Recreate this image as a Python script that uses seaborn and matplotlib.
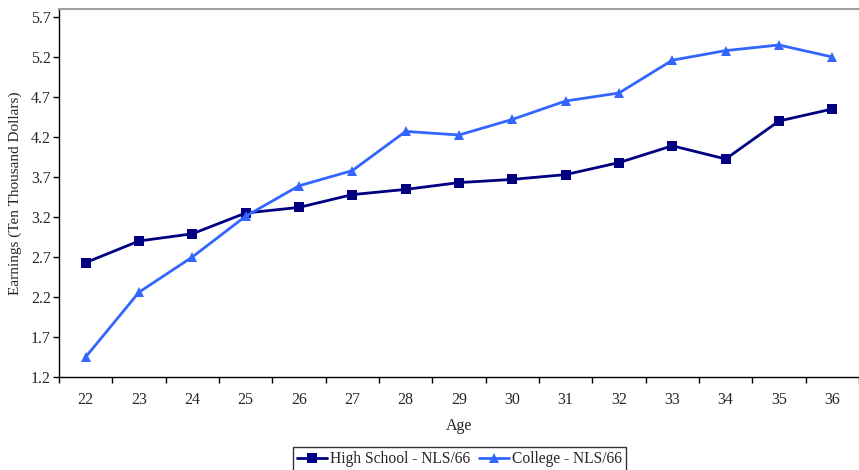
import numpy as np
import pandas as pd
import matplotlib
matplotlib.use("Agg")
import matplotlib.pyplot as plt
from matplotlib.ticker import FixedLocator
import seaborn as sns

ages = list(range(22, 37))
high_school = [2.63, 2.90, 2.99, 3.25, 3.32, 3.48, 3.545, 3.63, 3.67, 3.73, 3.88, 4.09, 3.925, 4.40, 4.55]
college = [1.45, 2.26, 2.70, 3.21, 3.59, 3.78, 4.27, 4.225, 4.42, 4.65, 4.75, 5.16, 5.28, 5.35, 5.20]
series_names = ["High School - NLS/66", "College - NLS/66"]
y_ticks = [1.2, 1.7, 2.2, 2.7, 3.2, 3.7, 4.2, 4.7, 5.2, 5.7]

sns.set_style("white")
plt.rcParams["font.family"] = ["Liberation Serif", "DejaVu Serif"]

fig = plt.figure(figsize=(8.59, 4.70), dpi=100)
W, H = 859, 470
ax = fig.add_axes([59 / W, 1 - 377 / H, 800 / W, (377 - 9) / H])

df = pd.DataFrame({
    "Age": ages * 2,
    "Earnings": high_school + college,
    "Series": [series_names[0]] * len(ages) + [series_names[1]] * len(ages),
})

sns.lineplot(data=df, x="Age", y="Earnings", hue="Series", style="Series",
             palette=["#000080", "#3366FF"], markers=["s", "^"], dashes=False,
             linewidth=2.0, markersize=7.5, markeredgewidth=0, ax=ax)

ax.set_xlim(21.5, 36.5)
ax.set_ylim(1.2, 5.8)
ax.set_xticks(ages)
ax.set_xticklabels([str(a) for a in ages], fontsize=11.5)
ax.xaxis.set_minor_locator(FixedLocator(np.arange(21.5, 37, 1.0)))
ax.tick_params(axis="x", which="major", length=0, pad=11)
ax.tick_params(axis="x", which="minor", length=4, width=1, color="black", direction="out", bottom=True)
ax.set_yticks(y_ticks)
ax.set_yticklabels([f"{v:.1f}" for v in y_ticks], fontsize=11.5)
ax.tick_params(axis="y", length=4, width=1, color="black", direction="out", left=True, pad=2)

for s in ["left", "bottom"]:
    ax.spines[s].set_color("black")
    ax.spines[s].set_linewidth(1.0)
ax.spines["top"].set_color("#A0A0A0")
ax.spines["top"].set_linewidth(1.5)
ax.spines["right"].set_visible(False)

ax.set_xlabel("Age", fontsize=11.5, labelpad=7)
ax.set_ylabel("Earnings (Ten Thousand Dollars)", fontsize=11, labelpad=6)

handles, labels = ax.get_legend_handles_labels()
ax.legend_.remove()
leg = fig.legend(handles, labels, loc="upper center", bbox_to_anchor=(0.535, 0.048),
                 bbox_transform=fig.transFigure, ncol=2, frameon=True, fancybox=False,
                 edgecolor="black", fontsize=11.2, handlelength=1.9, handletextpad=0.2,
                 columnspacing=0.6, borderpad=0.25, borderaxespad=0)
leg.get_frame().set_linewidth(1.0)

fig.savefig("out.png", dpi=100)
